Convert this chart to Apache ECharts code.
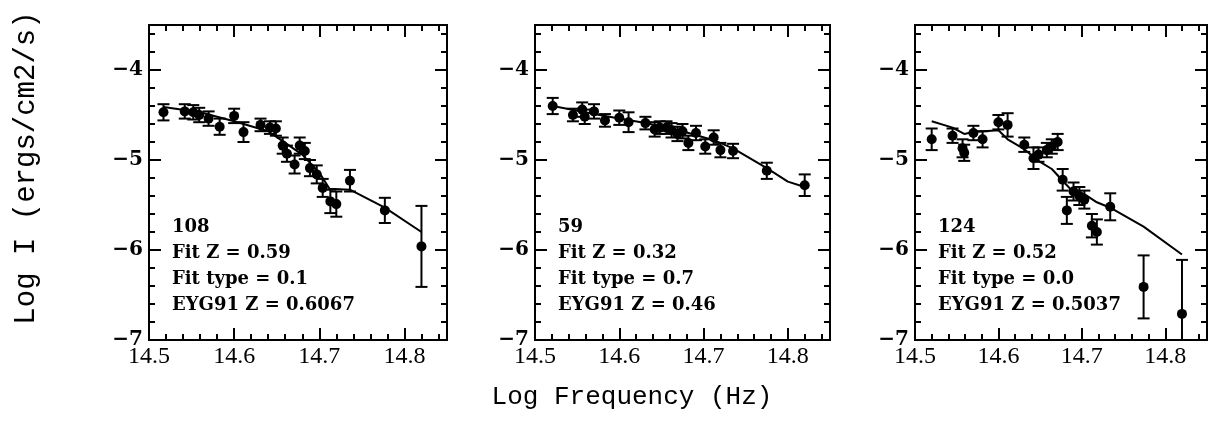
<!DOCTYPE html>
<html><head><meta charset="utf-8">
<script src="https://cdn.jsdelivr.net/npm/echarts@6/dist/echarts.min.js"></script>
<style>html,body{margin:0;padding:0;background:#fff}#c{width:1209px;height:430px}</style>
</head><body><div id="c"></div>
<script>
// ---- tick labels ----
const xTickLabels = ['14.5', '14.6', '14.7', '14.8'];
const yTickLabels = ['−7', '−6', '−5', '−4'];
const xTitle = 'Log Frequency (Hz)';
const yTitle = 'Log I (ergs/cm2/s)';

// ---- panel 1 ----
const p1X = [14.517,14.542,14.552,14.559,14.570,14.583,14.600,14.611,14.631,14.642,14.649,14.657,14.662,14.671,14.677,14.683,14.689,14.697,14.704,14.713,14.720,14.736,14.777,14.820];
const p1Y = [-4.47,-4.46,-4.47,-4.50,-4.54,-4.63,-4.51,-4.69,-4.61,-4.64,-4.65,-4.84,-4.93,-5.05,-4.84,-4.90,-5.09,-5.16,-5.31,-5.46,-5.49,-5.23,-5.56,-5.96];
const p1Err = [0.09,0.08,0.08,0.08,0.08,0.09,0.08,0.11,0.07,0.07,0.08,0.09,0.09,0.10,0.09,0.09,0.09,0.10,0.10,0.13,0.14,0.12,0.14,0.45];
const p1FitX = [14.517,14.56,14.60,14.64,14.66,14.68,14.70,14.712,14.736,14.777,14.82];
const p1FitY = [-4.41,-4.47,-4.57,-4.68,-4.81,-4.94,-5.14,-5.32,-5.33,-5.53,-5.80];
const p1Text = ['108', 'Fit Z = 0.59', 'Fit type = 0.1', 'EYG91 Z = 0.6067'];

// ---- panel 2 ----
const p2X = [14.521,14.545,14.556,14.559,14.570,14.583,14.600,14.611,14.631,14.642,14.648,14.656,14.662,14.669,14.675,14.682,14.691,14.702,14.712,14.720,14.735,14.775,14.820];
const p2Y = [-4.40,-4.50,-4.44,-4.52,-4.46,-4.56,-4.53,-4.58,-4.59,-4.66,-4.64,-4.64,-4.67,-4.71,-4.68,-4.81,-4.70,-4.85,-4.75,-4.89,-4.90,-5.12,-5.28];
const p2Err = [0.09,0.07,0.08,0.08,0.08,0.07,0.08,0.11,0.07,0.08,0.07,0.07,0.08,0.08,0.08,0.08,0.08,0.08,0.08,0.08,0.08,0.09,0.12];
const p2FitX = [14.521,14.583,14.631,14.675,14.712,14.735,14.775,14.80,14.820];
const p2FitY = [-4.40,-4.51,-4.59,-4.68,-4.78,-4.87,-5.09,-5.24,-5.30];
const p2Text = ['59', 'Fit Z = 0.32', 'Fit type = 0.7', 'EYG91 Z = 0.46'];

// ---- panel 3 ----
const p3X = [14.520,14.545,14.557,14.559,14.570,14.581,14.600,14.611,14.631,14.642,14.648,14.658,14.664,14.671,14.677,14.682,14.690,14.697,14.703,14.712,14.718,14.734,14.774,14.820];
const p3Y = [-4.77,-4.73,-4.87,-4.92,-4.70,-4.77,-4.58,-4.61,-4.83,-4.98,-4.94,-4.89,-4.85,-4.80,-5.22,-5.56,-5.35,-5.40,-5.44,-5.73,-5.80,-5.52,-6.41,-6.71];
const p3Err = [0.12,0.08,0.10,0.09,0.08,0.09,0.08,0.13,0.08,0.12,0.08,0.08,0.08,0.09,0.12,0.15,0.10,0.10,0.10,0.13,0.14,0.15,0.35,0.60];
const p3FitX = [14.520,14.545,14.559,14.570,14.600,14.611,14.631,14.648,14.664,14.677,14.690,14.703,14.718,14.734,14.774,14.820];
const p3FitY = [-4.57,-4.64,-4.71,-4.69,-4.67,-4.77,-4.88,-5.01,-5.10,-5.23,-5.36,-5.38,-5.47,-5.53,-5.74,-6.05];
const p3Text = ['124', 'Fit Z = 0.52', 'Fit type = 0.0', 'EYG91 Z = 0.5037'];

const panels = [
  {x: p1X, y: p1Y, e: p1Err, fx: p1FitX, fy: p1FitY, t: p1Text},
  {x: p2X, y: p2Y, e: p2Err, fx: p2FitX, fy: p2FitY, t: p2Text},
  {x: p3X, y: p3Y, e: p3Err, fx: p3FitX, fy: p3FitY, t: p3Text}
];

const GT = 25, GH = 315;
const gridBoxes = [{left: 149, width: 298}, {left: 535, width: 295}, {left: 915, width: 292}];

function xLab(v) {
  if (Math.abs(v * 10 - Math.round(v * 10)) > 1e-6) return '';
  const s = v.toFixed(1); return xTickLabels.includes(s) ? s : '';
}
function yLab(v) { const s = (v < 0 ? '−' : '') + Math.abs(v); return yTickLabels.includes(s) ? s : ''; }

function xAxisDef(g, pos, interval, len, labels) {
  return {
    type: 'value', gridIndex: g, position: pos, min: 14.5, max: 14.85, interval: interval,
    axisLine: {show: false, onZero: false}, splitLine: {show: false},
    axisTick: {show: true, inside: true, length: len, lineStyle: {color: '#000', width: 2}},
    axisLabel: labels ? {show: true, margin: 5, color: '#000', fontFamily: 'Liberation Serif', fontSize: 24, formatter: xLab} : {show: false},
    axisPointer: {show: false}
  };
}
function yAxisDef(g, pos, interval, len, labels) {
  return {
    type: 'value', gridIndex: g, position: pos, min: -7, max: -3.5, interval: interval,
    axisLine: {show: false, onZero: false}, splitLine: {show: false},
    axisTick: {show: true, inside: true, length: len, lineStyle: {color: '#000', width: 2}},
    axisLabel: labels ? {show: true, margin: 6, color: '#000', fontFamily: 'DejaVu Serif', fontWeight: 'bold', fontSize: 20, formatter: yLab} : {show: false},
    axisPointer: {show: false}
  };
}

const grid = [], xAxis = [], yAxis = [], series = [], graphic = [];
panels.forEach((p, g) => {
  grid.push({left: gridBoxes[g].left, top: GT, width: gridBoxes[g].width, height: GH,
    show: true, borderColor: '#000', borderWidth: 2, backgroundColor: 'transparent', outerBoundsMode: 'none'});
  const xi = xAxis.length, yi = yAxis.length;
  xAxis.push(xAxisDef(g, 'bottom', 0.1, 12, true));
  xAxis.push(xAxisDef(g, 'bottom', 0.02, 6, false));
  xAxis.push(xAxisDef(g, 'top', 0.1, 12, false));
  xAxis.push(xAxisDef(g, 'top', 0.02, 6, false));
  yAxis.push(yAxisDef(g, 'left', 1, 12, true));
  yAxis.push(yAxisDef(g, 'left', 0.2, 6, false));
  yAxis.push(yAxisDef(g, 'right', 1, 12, false));
  yAxis.push(yAxisDef(g, 'right', 0.2, 6, false));

  const pts = p.x.map((xv, i) => [xv, p.y[i], p.e[i]]);
  series.push({
    type: 'custom', xAxisIndex: xi, yAxisIndex: yi, data: pts, silent: true, z: 3,
    renderItem: function (params, api) {
      const x = api.value(0), y = api.value(1), e = api.value(2);
      const c = api.coord([x, y]);
      const hi = api.coord([x, y + e]);
      const lo = api.coord([x, y - e]);
      const cs = params.coordSys;
      const bottom = cs.y + cs.height;
      const st = {stroke: '#000', lineWidth: 2};
      const w = 6;
      const ch = [
        {type: 'line', shape: {x1: c[0], y1: hi[1], x2: c[0], y2: Math.min(lo[1], bottom)}, style: st},
        {type: 'line', shape: {x1: c[0] - w, y1: hi[1], x2: c[0] + w, y2: hi[1]}, style: st}
      ];
      if (lo[1] <= bottom) ch.push({type: 'line', shape: {x1: c[0] - w, y1: lo[1], x2: c[0] + w, y2: lo[1]}, style: st});
      return {type: 'group', children: ch};
    }
  });
  series.push({
    type: 'scatter', xAxisIndex: xi, yAxisIndex: yi, data: p.x.map((xv, i) => [xv, p.y[i]]),
    symbol: 'circle', symbolSize: 10, itemStyle: {color: '#000', opacity: 1}, silent: true, z: 4
  });
  series.push({
    type: 'line', xAxisIndex: xi, yAxisIndex: yi, data: p.fx.map((xv, i) => [xv, p.fy[i]]),
    showSymbol: false, symbol: 'none', lineStyle: {color: '#000', width: 2}, silent: true, z: 2
  });
  p.t.forEach((txt, i) => {
    graphic.push({type: 'text', x: gridBoxes[g].left + 23, y: 227 + i * 26,
      style: {text: txt, fill: '#000', font: 'bold 18px "DejaVu Serif"', textAlign: 'left', textVerticalAlign: 'middle'}});
  });
});

graphic.push({type: 'text', x: 632, y: 397,
  style: {text: xTitle, fill: '#000', font: '26px "Liberation Mono"', textAlign: 'center', textVerticalAlign: 'middle'}});
graphic.push({type: 'text', x: 26, y: 168, rotation: Math.PI / 2,
  style: {text: yTitle, fill: '#000', font: '29px "Liberation Mono"', textAlign: 'center', textVerticalAlign: 'middle'}});

const chart = echarts.init(document.getElementById('c'), null, {renderer: 'canvas'});
chart.setOption({
  animation: false,
  backgroundColor: '#fff',
  grid: grid, xAxis: xAxis, yAxis: yAxis, series: series, graphic: graphic
});
</script>
</body></html>
